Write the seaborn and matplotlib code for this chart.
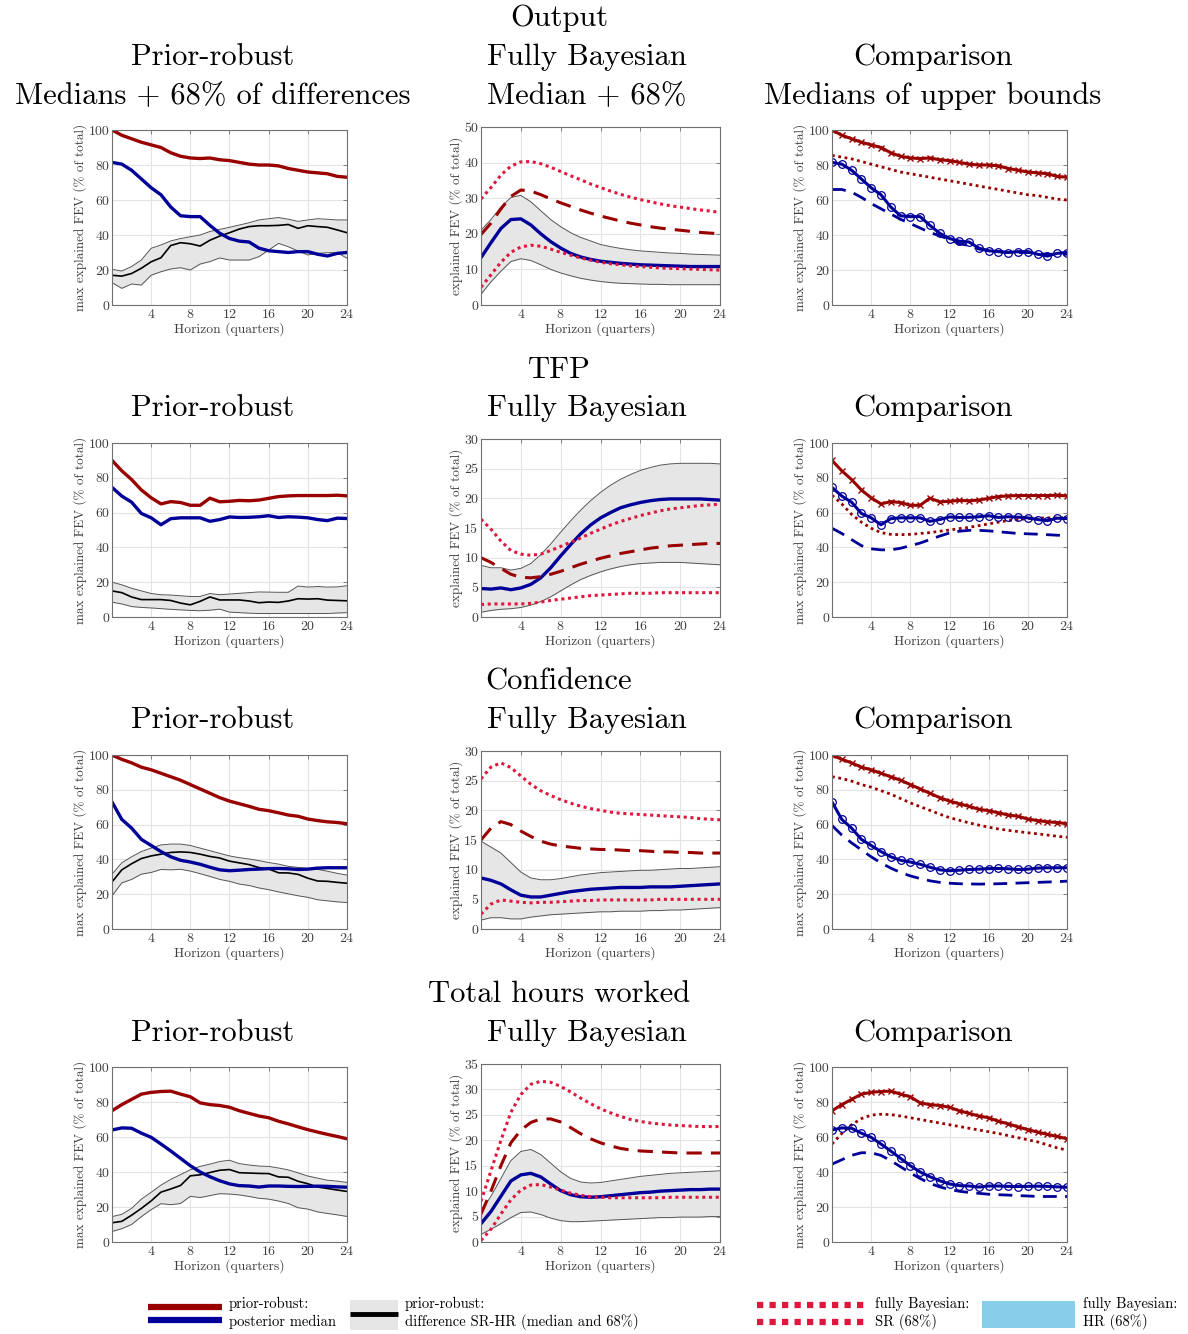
import matplotlib
matplotlib.use("Agg")
import matplotlib.pyplot as plt
import seaborn as sns
import numpy as np

# horizons 0..24 (quarters)
horizon = list(range(25))

# ---------------- Output ----------------
output_pr_sr = [100, 97, 95, 93, 91.5, 90, 87, 85, 84, 83.7, 84, 83, 82.5, 81.5, 80.5, 80, 80, 79.5, 78, 77, 76, 75.5, 75, 73.5, 73]
output_pr_hr = [81.5, 80.5, 77, 72, 67, 63, 56, 51, 50.5, 50.5, 45.5, 41, 38, 36.5, 36, 32.5, 31, 30.5, 30, 30.5, 30.5, 29, 28, 29.5, 30]
output_diff_med = [17, 16.5, 18, 21, 24.7, 27, 34, 35.6, 35, 33.7, 37, 39.4, 41.3, 43.4, 44.8, 45.3, 45.3, 45.5, 46, 43.8, 45.3, 44.8, 44.4, 42.9, 41.3]
output_diff_hi = [20.4, 19.4, 22, 25.7, 32.4, 34.3, 36.6, 38, 39, 40, 42, 43.2, 44.4, 45.7, 47, 48.6, 49.3, 50, 49, 47.8, 48.6, 49.3, 49, 48.6, 48.6]
output_diff_lo = [12.8, 9.5, 12, 11.4, 17, 19, 20.6, 21.3, 20, 23.4, 24.8, 26.9, 25.7, 25.7, 25.7, 27.6, 31.4, 35.2, 33.3, 30.9, 28.6, 29.5, 29.9, 29.9, 26.7]
output_fb_hr_med = [13.3, 17.5, 21.5, 24, 24.2, 22.5, 20, 17.8, 16, 14.5, 13.5, 12.8, 12.3, 12, 11.7, 11.5, 11.3, 11.2, 11.1, 11, 10.9, 10.8, 10.8, 10.8, 10.8]
output_fb_hr_hi = [21, 24, 27.5, 30.2, 30.8, 29, 26.5, 24, 22, 20.3, 19, 18, 17, 16.4, 15.9, 15.5, 15.2, 15, 14.8, 14.6, 14.5, 14.3, 14.2, 14.1, 14]
output_fb_hr_lo = [3, 6.5, 9.5, 12.2, 13, 12.5, 11.3, 10, 9, 8.2, 7.5, 7, 6.6, 6.3, 6.1, 6, 5.9, 5.8, 5.8, 5.7, 5.7, 5.7, 5.7, 5.7, 5.7]
output_fb_sr_med = [19.8, 23, 27, 30.5, 32.3, 32, 31, 29.8, 28.7, 27.7, 26.7, 25.8, 25, 24.3, 23.6, 23, 22.5, 22, 21.6, 21.3, 21, 20.7, 20.4, 20.2, 20]
output_fb_sr_hi = [29.8, 33, 36.5, 39, 40.2, 40.3, 39.7, 38.7, 37.5, 36.3, 35.2, 34, 33, 32, 31.1, 30.3, 29.6, 29, 28.4, 27.9, 27.5, 27.1, 26.7, 26.4, 26]
output_fb_sr_lo = [5, 8.5, 12, 14.8, 16.3, 16.8, 16.5, 15.7, 14.8, 14, 13.2, 12.6, 12, 11.6, 11.3, 11, 10.8, 10.6, 10.4, 10.3, 10.2, 10.1, 10, 9.9, 9.8]
output_cmp_sr = [85.5, 84.5, 83.5, 82, 80.5, 79, 77.5, 76, 75, 74, 73, 72, 71, 70, 69, 68, 67, 66, 65, 64, 63, 62.5, 61.5, 60.5, 60]
output_cmp_hr = [66, 66, 64.5, 61.5, 58, 55, 52, 49, 46.5, 44, 41.5, 39.5, 37.5, 35, 34, 32, 31, 30.5, 30, 30, 30, 29.5, 29, 29, 29]

# ---------------- TFP ----------------
tfp_pr_sr = [90, 84, 79, 73, 68.5, 65, 66.3, 65.8, 64.2, 64.2, 68.3, 66.2, 66.5, 67, 66.8, 67.2, 68.2, 69.2, 69.6, 69.8, 69.8, 69.8, 69.8, 70, 69.6]
tfp_pr_hr = [74.5, 69.5, 66, 59.5, 57, 53, 56.5, 57, 57, 57, 55, 56, 57.5, 57.2, 57.3, 57.6, 58.2, 57.2, 57.6, 57.4, 57, 56, 55.4, 56.8, 56.6]
tfp_diff_med = [15, 14, 11.5, 10, 10, 10, 9.5, 8, 7, 9, 11.5, 9.8, 9.8, 9.8, 9.2, 8.2, 8.6, 8.4, 9.2, 10.5, 10.3, 10.5, 9.7, 9.5, 9.3]
tfp_diff_hi = [20, 18.5, 16.5, 15, 13.5, 12.8, 12.6, 12.2, 11.8, 11.8, 13.5, 12.8, 13.2, 13.6, 14, 14.4, 14.3, 14.2, 14.2, 17.8, 17.2, 17.5, 17.2, 17.3, 18]
tfp_diff_lo = [8.5, 7.5, 6, 5.5, 5.2, 4.8, 4.4, 4.1, 3.8, 3.6, 3.9, 4.5, 2.8, 2.5, 2.2, 2, 2, 2, 2, 2, 2, 2, 2, 2.3, 2.5]
tfp_fb_hr_med = [4.8, 4.7, 4.9, 4.6, 4.9, 5.5, 6.6, 8.3, 10.3, 12.2, 14, 15.5, 16.7, 17.6, 18.4, 18.9, 19.3, 19.6, 19.8, 19.9, 19.9, 19.9, 19.9, 19.8, 19.7]
tfp_fb_hr_hi = [8.7, 8.3, 8.3, 7.9, 8.2, 9, 10.5, 12.3, 14.3, 16.2, 18, 19.6, 21, 22.2, 23.2, 24, 24.7, 25.2, 25.6, 25.8, 25.9, 25.9, 25.9, 25.9, 25.8]
tfp_fb_hr_lo = [0.8, 1.1, 1.3, 1.4, 1.6, 2, 2.6, 3.4, 4.4, 5.4, 6.3, 7, 7.6, 8.1, 8.5, 8.8, 9, 9.1, 9.2, 9.2, 9.2, 9.1, 9, 8.9, 8.8]
tfp_fb_sr_med = [10, 9.2, 8.2, 7.2, 6.7, 6.6, 6.8, 7.2, 7.7, 8.3, 8.9, 9.4, 9.9, 10.3, 10.7, 11, 11.3, 11.6, 11.8, 12, 12.1, 12.2, 12.3, 12.4, 12.4]
tfp_fb_sr_hi = [16.5, 14.8, 12.8, 11.2, 10.6, 10.4, 10.6, 11.2, 11.9, 12.6, 13.3, 14.1, 14.8, 15.5, 16.1, 16.6, 17.1, 17.5, 17.9, 18.2, 18.4, 18.6, 18.8, 18.9, 19]
tfp_fb_sr_lo = [2.1, 2.2, 2.2, 2.2, 2.2, 2.3, 2.5, 2.8, 3, 3.2, 3.4, 3.6, 3.7, 3.8, 3.9, 4, 4, 4, 4.1, 4.1, 4.1, 4.1, 4.1, 4.1, 4.1]
tfp_cmp_sr = [70, 65, 59, 54.5, 51, 48.5, 47.5, 47.3, 47.5, 48, 48.5, 49.3, 50, 50.8, 51.5, 52.5, 53.5, 54.5, 55.5, 56, 56.5, 56.8, 57, 57, 57]
tfp_cmp_hr = [51, 48, 44.5, 41, 39.2, 38.6, 38.6, 39.5, 41, 42.5, 44.5, 46.5, 48.3, 49.3, 49.8, 49.8, 49.5, 49, 48.5, 48, 47.8, 47.6, 47.3, 47, 46.8]

# ---------------- Confidence ----------------
conf_pr_sr = [100, 97.5, 95.5, 93, 91.5, 89.5, 87.5, 85.5, 83, 80.5, 78, 75.5, 73.5, 72, 70.5, 68.8, 68, 66.8, 65.5, 64.8, 63.2, 62.3, 61.6, 61.2, 60.5]
conf_pr_hr = [73, 63, 58, 51.5, 48, 44.5, 41.5, 39.5, 38.5, 37.2, 35.5, 34, 33.5, 33.8, 34.2, 34.4, 34.7, 34.8, 34.6, 34.2, 34.4, 35, 35.2, 35.2, 35.2]
conf_diff_med = [27, 34, 37.5, 40.5, 42, 43, 44, 44.3, 44, 43, 41.7, 40.8, 39, 38, 37, 35.3, 34.5, 32.3, 32.2, 31.4, 29.2, 27.6, 27.4, 26.8, 26.3]
conf_diff_hi = [31.5, 38, 41.5, 44.5, 46.5, 48.3, 48.8, 48.8, 48, 46.5, 45, 43.5, 42, 41, 40.2, 39.3, 38.2, 37.3, 36, 35.4, 34.8, 34.3, 33.2, 32, 31]
conf_diff_lo = [19, 26.5, 28.5, 31.5, 32.5, 34.2, 34, 34.3, 33.3, 31.8, 30.2, 28.5, 27.4, 25.8, 25, 23.6, 22.6, 21.3, 20.2, 19.1, 18.2, 16.8, 16.2, 15.6, 15.2]
conf_fb_hr_med = [8.6, 8.2, 7.6, 6.6, 5.7, 5.4, 5.4, 5.7, 6, 6.3, 6.5, 6.7, 6.8, 6.9, 7, 7, 7, 7.1, 7.1, 7.1, 7.2, 7.3, 7.4, 7.5, 7.6]
conf_fb_hr_hi = [14.8, 13.8, 12.8, 11.2, 9.6, 8.6, 8.3, 8.3, 8.5, 8.8, 9.1, 9.3, 9.5, 9.6, 9.7, 9.8, 9.9, 9.9, 10, 10.1, 10.2, 10.2, 10.3, 10.4, 10.5]
conf_fb_hr_lo = [1.5, 1.9, 1.9, 1.7, 1.7, 2, 2.2, 2.4, 2.5, 2.6, 2.7, 2.8, 2.9, 2.9, 3, 3, 3, 3.1, 3.1, 3.2, 3.2, 3.3, 3.4, 3.5, 3.6]
conf_fb_sr_med = [15, 17, 18.1, 17.6, 16.5, 15.6, 14.8, 14.3, 14, 13.8, 13.6, 13.5, 13.4, 13.4, 13.3, 13.2, 13.2, 13.1, 13, 13, 12.9, 12.9, 12.8, 12.8, 12.8]
conf_fb_sr_hi = [25.3, 27.3, 28, 27.2, 25.8, 24.4, 23.3, 22.5, 21.8, 21.2, 20.7, 20.3, 20, 19.7, 19.5, 19.4, 19.3, 19.2, 19.1, 19, 18.9, 18.8, 18.6, 18.5, 18.4]
conf_fb_sr_lo = [2.5, 4.2, 4.9, 4.7, 4.5, 4.4, 4.5, 4.5, 4.6, 4.7, 4.8, 4.8, 4.9, 4.9, 4.9, 4.9, 4.9, 4.9, 5, 5, 5, 5, 5, 5, 5]
conf_cmp_sr = [87.5, 86.5, 85, 83, 81.5, 79.5, 77.5, 75, 72.5, 70.3, 68.2, 66, 64, 62.5, 61, 59.7, 58.5, 57.5, 56.7, 56, 55.3, 54.7, 54, 53.3, 52.7]
conf_cmp_hr = [59.5, 54, 49.5, 45.5, 41.5, 38, 35, 32.5, 30.5, 29, 27.7, 26.8, 26.3, 26, 25.9, 25.8, 25.9, 26, 26.2, 26.4, 26.6, 26.8, 27, 27.2, 27.5]

# ---------------- Total hours worked ----------------
hours_pr_sr = [75, 78.5, 81.5, 84.5, 85.5, 86, 86.2, 84.5, 83, 79.5, 78.5, 78, 77, 75, 73.5, 72, 71, 69, 67.5, 65.8, 64.2, 62.8, 61.5, 60.3, 59]
hours_pr_hr = [64, 65.2, 65, 62.2, 59.8, 56, 52, 47.8, 43.6, 40, 37.3, 35, 33.2, 32.2, 32, 31.4, 32, 32, 31.8, 31.7, 31.8, 31.9, 31.8, 31.5, 31.3]
hours_diff_med = [11, 11.8, 15.3, 19.2, 23.5, 28.5, 30.3, 32.3, 37.8, 38.4, 39.7, 41, 41.4, 39.6, 39.4, 39.2, 39.1, 37.2, 37, 34.7, 33.3, 31.4, 30.6, 29.7, 28.9]
hours_diff_hi = [14.5, 15.8, 19.2, 24.5, 28.4, 32.5, 35.8, 38.5, 41.3, 43.2, 44.5, 46, 46.7, 44.8, 44, 43.4, 43.2, 42.3, 41.2, 39.5, 37.7, 36.5, 35.3, 34.8, 34]
hours_diff_lo = [6, 7.6, 10, 14.5, 18.5, 21.9, 21.3, 22, 26.1, 25.4, 26.5, 27.6, 27.4, 26.9, 26, 25, 24.5, 23.4, 22, 19.6, 18.8, 17.2, 16.3, 15.5, 14.6]
hours_fb_hr_med = [3.6, 6, 9, 12, 13.2, 13.5, 12.8, 11.4, 10.1, 9.3, 8.9, 8.8, 8.9, 9.1, 9.3, 9.5, 9.7, 9.8, 10, 10.1, 10.2, 10.3, 10.3, 10.4, 10.4]
hours_fb_hr_hi = [6, 9, 12.5, 16, 17.8, 18.2, 17.2, 15.5, 13.8, 12.5, 11.8, 11.6, 11.7, 12, 12.3, 12.6, 12.9, 13.1, 13.3, 13.5, 13.6, 13.7, 13.8, 13.9, 14]
hours_fb_hr_lo = [1.5, 2.5, 3.6, 4.8, 5.8, 5.9, 5.4, 4.7, 4.2, 4, 4, 4.1, 4.2, 4.3, 4.4, 4.5, 4.6, 4.7, 4.8, 4.8, 4.9, 4.9, 4.9, 5, 5]
hours_fb_sr_med = [5.5, 10, 15, 19.5, 22, 23.5, 24.2, 24.2, 23.6, 22.5, 21.3, 20.3, 19.5, 18.9, 18.4, 18.1, 17.9, 17.8, 17.7, 17.6, 17.5, 17.5, 17.5, 17.5, 17.5]
hours_fb_sr_hi = [8, 14, 20, 25.5, 29, 31, 31.6, 31.4, 30.6, 29.5, 28.3, 27.2, 26.2, 25.4, 24.7, 24.1, 23.7, 23.4, 23.2, 23, 22.9, 22.8, 22.7, 22.7, 22.7]
hours_fb_sr_lo = [0.3, 2.5, 5.5, 8.3, 10.2, 11.2, 11.3, 10.8, 10.2, 9.6, 9.2, 8.9, 8.8, 8.7, 8.7, 8.7, 8.7, 8.7, 8.7, 8.8, 8.8, 8.8, 8.8, 8.8, 8.8]
hours_cmp_sr = [56, 62, 67, 70.5, 72.5, 73, 72.8, 72, 71, 70, 69, 68, 67, 66, 65, 64, 63, 62, 60.8, 59.6, 58.4, 57.2, 55.5, 53.8, 52.5]
hours_cmp_hr = [44.5, 47, 49.5, 51, 51, 49.5, 46.5, 43, 39.5, 36.3, 33.5, 31.5, 30, 29, 28.3, 27.8, 27.3, 27, 26.8, 26.5, 26.3, 26, 26, 26, 26]

variable_names = ["Output", "TFP", "Confidence", "Total hours worked"]
fb_ymax = [50, 30, 30, 35]
fb_ystep = [10, 5, 5, 5]

rows = [
    (output_pr_sr, output_pr_hr, output_diff_med, output_diff_lo, output_diff_hi,
     output_fb_hr_med, output_fb_hr_lo, output_fb_hr_hi, output_fb_sr_med, output_fb_sr_lo, output_fb_sr_hi,
     output_cmp_sr, output_cmp_hr),
    (tfp_pr_sr, tfp_pr_hr, tfp_diff_med, tfp_diff_lo, tfp_diff_hi,
     tfp_fb_hr_med, tfp_fb_hr_lo, tfp_fb_hr_hi, tfp_fb_sr_med, tfp_fb_sr_lo, tfp_fb_sr_hi,
     tfp_cmp_sr, tfp_cmp_hr),
    (conf_pr_sr, conf_pr_hr, conf_diff_med, conf_diff_lo, conf_diff_hi,
     conf_fb_hr_med, conf_fb_hr_lo, conf_fb_hr_hi, conf_fb_sr_med, conf_fb_sr_lo, conf_fb_sr_hi,
     conf_cmp_sr, conf_cmp_hr),
    (hours_pr_sr, hours_pr_hr, hours_diff_med, hours_diff_lo, hours_diff_hi,
     hours_fb_hr_med, hours_fb_hr_lo, hours_fb_hr_hi, hours_fb_sr_med, hours_fb_sr_lo, hours_fb_sr_hi,
     hours_cmp_sr, hours_cmp_hr),
]

DARKRED = "#990000"
DARKBLUE = "#000099"
CRIMSON = "#e0173c"
BAND = "#e6e6e6"
TXT = "#404040"

sns.set_theme(style="whitegrid")
plt.rcParams['font.family'] = ['cmr10', 'DejaVu Serif']
plt.rcParams['axes.formatter.use_mathtext'] = True
plt.rcParams['mathtext.fontset'] = 'cm'
plt.rcParams['text.color'] = 'black'

W, H = 1188, 1334
fig = plt.figure(figsize=(W / 100, H / 100), dpi=100)


def px_axes(x0, y0, x1, y1):
    return fig.add_axes([x0 / W, 1 - y1 / H, (x1 - x0) / W, (y1 - y0) / H])


def style_axes(ax, ymax, ystep, ylabel):
    ax.set_xlim(0, 24)
    ax.set_ylim(0, ymax)
    ax.set_xticks(range(4, 25, 4))
    ax.set_yticks(np.arange(0, ymax + 0.1, ystep))
    ax.set_yticklabels([f"{int(v)}" for v in np.arange(0, ymax + 0.1, ystep)])
    ax.grid(True, color="#e3e3e3", linewidth=0.8)
    ax.set_facecolor("white")
    for sp in ax.spines.values():
        sp.set_color("#707070")
        sp.set_linewidth(0.8)
    ax.tick_params(direction="in", length=3, width=0.6, top=True, right=True,
                   colors="#707070", labelcolor=TXT, labelsize=10, pad=2)
    ax.set_xlabel("Horizon (quarters)", fontsize=9.8, color=TXT, labelpad=1)
    ax.set_ylabel(ylabel, fontsize=9.5, color=TXT, labelpad=1)


row_top = [130, 443, 755, 1067]
row_mid_top = [127, 439, 751, 1064]
row_bottom = [305, 617, 929, 1242]
col_x = [(112, 347), (481, 720), (832, 1067)]
col_center = [213, 587, 933]
title_y = [57, 408, 720, 1033]
name_y = [18, 370, 682, 994]

for r, data in enumerate(rows):
    (pr_sr, pr_hr, d_med, d_lo, d_hi, fb_hm, fb_hl, fb_hh, fb_sm, fb_sl, fb_sh, cmp_sr, cmp_hr) = data

    # prior-robust panel
    ax = px_axes(col_x[0][0], row_top[r], col_x[0][1], row_bottom[r])
    ax.fill_between(horizon, d_lo, d_hi, color=BAND, linewidth=0)
    sns.lineplot(x=horizon, y=d_hi, ax=ax, color="#555555", linewidth=0.7)
    sns.lineplot(x=horizon, y=d_lo, ax=ax, color="#555555", linewidth=0.7)
    sns.lineplot(x=horizon, y=d_med, ax=ax, color="black", linewidth=1.2)
    sns.lineplot(x=horizon, y=pr_sr, ax=ax, color=DARKRED, linewidth=2.4)
    sns.lineplot(x=horizon, y=pr_hr, ax=ax, color=DARKBLUE, linewidth=2.4)
    style_axes(ax, 100, 20, "max explained FEV (% of total)")

    # fully Bayesian panel
    ax = px_axes(col_x[1][0], row_mid_top[r], col_x[1][1], row_bottom[r])
    ax.fill_between(horizon, fb_hl, fb_hh, color=BAND, linewidth=0)
    sns.lineplot(x=horizon, y=fb_hh, ax=ax, color="#555555", linewidth=0.7)
    sns.lineplot(x=horizon, y=fb_hl, ax=ax, color="#555555", linewidth=0.7)
    sns.lineplot(x=horizon, y=fb_hm, ax=ax, color=DARKBLUE, linewidth=2.4)
    sns.lineplot(x=horizon, y=fb_sm, ax=ax, color=DARKRED, linewidth=2.2,
                 linestyle=(0, (5, 3)))
    sns.lineplot(x=horizon, y=fb_sh, ax=ax, color=CRIMSON, linewidth=2.2, linestyle=(0, (1, 1.2)))
    sns.lineplot(x=horizon, y=fb_sl, ax=ax, color=CRIMSON, linewidth=2.2, linestyle=(0, (1, 1.2)))
    style_axes(ax, fb_ymax[r], fb_ystep[r], "explained FEV (% of total)")

    # comparison panel
    ax = px_axes(col_x[2][0], row_top[r], col_x[2][1], row_bottom[r])
    sns.lineplot(x=horizon, y=cmp_sr, ax=ax, color=DARKRED, linewidth=2.0, linestyle=(0, (1, 1.3)))
    sns.lineplot(x=horizon, y=cmp_hr, ax=ax, color=DARKBLUE, linewidth=2.0, linestyle=(0, (5, 3)))
    sns.lineplot(x=horizon, y=pr_sr, ax=ax, color=DARKRED, linewidth=2.2, linestyle="-",
                 marker="x", markersize=4.5, markeredgecolor=DARKRED, markeredgewidth=1.0)
    sns.lineplot(x=horizon, y=pr_hr, ax=ax, color=DARKBLUE, linewidth=2.2, linestyle="-",
                 marker="o", markersize=5.5, markerfacecolor="none",
                 markeredgecolor=DARKBLUE, markeredgewidth=0.9)
    style_axes(ax, 100, 20, "max explained FEV (% of total)")

    # titles
    fig.text(559 / W, 1 - name_y[r] / H, variable_names[r], ha="center", va="center", fontsize=22)
    fig.text(col_center[0] / W, 1 - title_y[r] / H, "Prior-robust", ha="center", va="center", fontsize=22)
    fig.text(col_center[1] / W, 1 - title_y[r] / H, "Fully Bayesian", ha="center", va="center", fontsize=22)
    fig.text(col_center[2] / W, 1 - title_y[r] / H, "Comparison", ha="center", va="center", fontsize=22)

fig.text(col_center[0] / W, 1 - 96 / H, "Medians + 68% of differences", ha="center", va="center", fontsize=22)
fig.text(col_center[1] / W, 1 - 96 / H, "Median + 68%", ha="center", va="center", fontsize=22)
fig.text(col_center[2] / W, 1 - 96 / H, "Medians of upper bounds", ha="center", va="center", fontsize=22)

# legend drawn in pixel space along the bottom
leg = fig.add_axes([0, 0, 1, 1], zorder=-1)
leg.set_xlim(0, W)
leg.set_ylim(H, 0)
leg.axis("off")
leg.plot([148, 222], [1307, 1307], color=DARKRED, linewidth=4.5, solid_capstyle="butt")
leg.plot([148, 222], [1320, 1320], color=DARKBLUE, linewidth=4.5, solid_capstyle="butt")
leg.text(229, 1304, "prior-robust:", fontsize=10.5, va="center")
leg.text(229, 1322, "posterior median", fontsize=10.5, va="center")
leg.fill_between([350, 398], [1300, 1300], [1330, 1330], color=BAND, linewidth=0)
leg.plot([350, 398], [1314, 1314], color="black", linewidth=3.5, solid_capstyle="butt")
leg.text(405, 1304, "prior-robust:", fontsize=10.5, va="center")
leg.text(405, 1322, "difference SR-HR (median and 68%)", fontsize=10.5, va="center")
leg.plot([757, 868], [1305, 1305], color=CRIMSON, linewidth=4.5, linestyle=(0, (1, 1)))
leg.plot([757, 868], [1322, 1322], color=CRIMSON, linewidth=4.5, linestyle=(0, (1, 1)))
leg.text(875, 1304, "fully Bayesian:", fontsize=10.5, va="center")
leg.text(875, 1322, "SR (68%)", fontsize=10.5, va="center")
leg.fill_between([982, 1075], [1301, 1301], [1328, 1328], color="#87ceeb", linewidth=0)
leg.text(1083, 1304, "fully Bayesian:", fontsize=10.5, va="center")
leg.text(1083, 1322, "HR (68%)", fontsize=10.5, va="center")

fig.savefig("out.png", dpi=100, facecolor="white")
